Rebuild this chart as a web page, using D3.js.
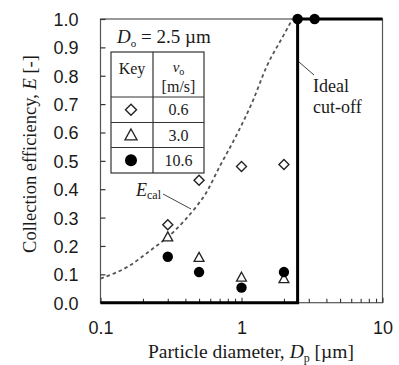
<!DOCTYPE html>
<html>
<head>
<meta charset="utf-8">
<script src="https://cdn.jsdelivr.net/npm/d3@7"></script>
<style>
  html, body { margin: 0; padding: 0; background: #fff; }
  svg { display: block; }
  text { fill: #1a1a1a; }
</style>
</head>
<body>
<svg id="chart" width="399" height="365"></svg>
<script>
// Particle sizes tested (µm) and measured collection efficiencies per face velocity
const particleSizes = [0.3, 0.5, 1, 2];
const eff06 = [0.275, 0.432, 0.48, 0.487];   // v_o = 0.6 m/s
const eff30 = [0.232, 0.16, 0.09, 0.085];    // v_o = 3.0 m/s
const sizes106 = [0.3, 0.5, 1, 2, 2.5, 3.3];
const eff106 = [0.162, 0.108, 0.053, 0.108, 1.0, 1.0]; // v_o = 10.6 m/s

// Calculated efficiency curve E_cal
const calSizes = [0.1, 0.16, 0.22, 0.33, 0.48, 0.55, 0.7, 0.92, 1.2, 1.5, 2.0, 2.3];
const calEff   = [0.085, 0.13, 0.18, 0.25, 0.34, 0.38, 0.48, 0.59, 0.71, 0.83, 0.945, 1.0];

// Ideal cut-off step at D_o = 2.5 µm
const cutSizes = [0.1, 2.5, 2.5, 10];
const cutEff   = [0, 0, 1, 1];

const yTicks = [0, 0.1, 0.2, 0.3, 0.4, 0.5, 0.6, 0.7, 0.8, 0.9, 1.0];
const xTicks = [0.1, 1, 10];
const legendKeys = ["0.6", "3.0", "10.6"];

const svg = d3.select("#chart");
const pLeft = 100.5, pRight = 382.5, pTop = 19, pBottom = 302.7;

const x = d3.scaleLog().domain([0.1, 10]).range([pLeft, pRight]);
const y = d3.scaleLinear().domain([0, 1]).range([pBottom, pTop]);

const serif = "'Liberation Serif', 'Times New Roman', serif";
const sans = "'Liberation Sans', Arial, sans-serif";

// Custom marker shapes
const diamond = { draw(ctx, s) { const r = s; ctx.moveTo(0, -r); ctx.lineTo(r, 0); ctx.lineTo(0, r); ctx.lineTo(-r, 0); ctx.closePath(); } };
const triangle = { draw(ctx, s) { const h = s; ctx.moveTo(0, -h * 0.55); ctx.lineTo(h * 0.55, h * 0.45); ctx.lineTo(-h * 0.55, h * 0.45); ctx.closePath(); } };

// Frame
svg.append("rect")
  .attr("x", pLeft).attr("y", pTop)
  .attr("width", pRight - pLeft).attr("height", pBottom - pTop)
  .attr("fill", "none").attr("stroke", "#555").attr("stroke-width", 1.2);

// Y axis with inward ticks
const yAxis = d3.axisLeft(y).tickValues(yTicks).tickSizeInner(-5).tickSizeOuter(0)
  .tickFormat(d3.format(".1f"));
const gy = svg.append("g").attr("transform", `translate(${pLeft},0)`).call(yAxis);
gy.select(".domain").remove();
gy.selectAll(".tick line").attr("stroke", "#333").attr("stroke-width", 1.2);
gy.selectAll(".tick text")
  .attr("x", -22).attr("dy", "0.36em")
  .style("font-family", sans).style("font-size", "18px").attr("fill", "#222");

// X axis (log) with inward major and minor ticks
const minor = [];
for (let dec = 0.1; dec < 10; dec *= 10) for (let k = 2; k <= 9; k++) minor.push(+(dec * k).toFixed(3));
const gx = svg.append("g").attr("transform", `translate(0,${pBottom})`);
gx.call(d3.axisBottom(x).tickValues(minor).tickSize(-4).tickFormat(""));
gx.call(g => g.selectAll(".tick line").attr("stroke", "#333").attr("stroke-width", 1.1));
gx.select(".domain").remove();
const gx2 = svg.append("g").attr("transform", `translate(0,${pBottom})`)
  .call(d3.axisBottom(x).tickValues(xTicks).tickSize(-5).tickFormat(d => d3.format("")(d)));
gx2.select(".domain").remove();
gx2.selectAll(".tick line").attr("stroke", "#333").attr("stroke-width", 1.1);
gx2.selectAll(".tick text").attr("y", 25).attr("dy", "0.36em")
  .style("font-family", sans).style("font-size", "18px").attr("fill", "#222");

// Axis titles
const yt = svg.append("text")
  .attr("transform", `translate(36,154) rotate(-90)`)
  .attr("text-anchor", "middle")
  .style("font-family", serif).style("font-size", "18.5px");
yt.append("tspan").text("Collection efficiency, ");
yt.append("tspan").attr("font-style", "italic").text("E");
yt.append("tspan").text(" [-]");

const xt = svg.append("text")
  .attr("x", 251).attr("y", 358)
  .attr("text-anchor", "middle")
  .style("font-family", serif).style("font-size", "19.5px");
xt.append("tspan").text("Particle diameter, ");
xt.append("tspan").attr("font-style", "italic").text("D");
xt.append("tspan").attr("font-size", "12px").attr("dy", 4).text("p");
xt.append("tspan").attr("dy", -4).text(" [µm]");

// E_cal curve
const calLine = d3.line().x(d => x(d[0])).y(d => y(d[1])).curve(d3.curveMonotoneX);
svg.append("path")
  .datum(calSizes.map((d, i) => [d, calEff[i]]))
  .attr("d", calLine)
  .attr("fill", "none").attr("stroke", "#555").attr("stroke-width", 1.8)
  .attr("stroke-dasharray", "3.5,3");

// Ideal cut-off line
svg.append("path")
  .datum(cutSizes.map((d, i) => [d, cutEff[i]]))
  .attr("d", d3.line().x(d => x(d[0])).y(d => y(d[1])))
  .attr("fill", "none").attr("stroke", "#000").attr("stroke-width", 3);

// Data markers
svg.append("g").selectAll("path").data(particleSizes).join("path")
  .attr("transform", (d, i) => `translate(${x(d)},${y(eff06[i])})`)
  .attr("d", d3.symbol().type(diamond).size(5))
  .attr("fill", "#fff").attr("stroke", "#222").attr("stroke-width", 1.4);
svg.append("g").selectAll("path").data(particleSizes).join("path")
  .attr("transform", (d, i) => `translate(${x(d)},${y(eff30[i])})`)
  .attr("d", d3.symbol().type(triangle).size(9))
  .attr("fill", "#fff").attr("stroke", "#222").attr("stroke-width", 1.3);
svg.append("g").selectAll("circle").data(sizes106).join("circle")
  .attr("cx", d => x(d)).attr("cy", (d, i) => y(eff106[i])).attr("r", 5.2)
  .attr("fill", "#000");

// Annotations
const ecal = svg.append("text").attr("x", 136).attr("y", 196)
  .style("font-family", serif).style("font-size", "18px");
ecal.append("tspan").attr("font-style", "italic").text("E");
ecal.append("tspan").attr("font-size", "12px").attr("dy", 3).text("cal");
svg.append("line").attr("x1", 163).attr("y1", 194).attr("x2", 191).attr("y2", 209)
  .attr("stroke", "#444").attr("stroke-width", 1);

svg.append("line").attr("x1", 299).attr("y1", 62).attr("x2", 314).attr("y2", 75)
  .attr("stroke", "#444").attr("stroke-width", 1);
svg.append("text").attr("x", 313).attr("y", 92)
  .style("font-family", serif).style("font-size", "18px").text("Ideal");
svg.append("text").attr("x", 313).attr("y", 113)
  .style("font-family", serif).style("font-size", "18px").text("cut-off");

// Legend table
const lg = svg.append("g");
const dtxt = lg.append("text").attr("x", 117).attr("y", 43)
  .style("font-family", serif).style("font-size", "19px");
dtxt.append("tspan").attr("font-style", "italic").text("D");
dtxt.append("tspan").attr("font-size", "11px").attr("dy", 4).text("o");
dtxt.append("tspan").attr("dy", -4).text(" = 2.5 µm");

const tL = 111, tR = 204, tC = 153, tTop = 52, rows = [97, 122.5, 147.5, 173];
lg.append("rect").attr("x", tL).attr("y", tTop).attr("width", tR - tL).attr("height", rows[3] - tTop)
  .attr("fill", "#fff").attr("stroke", "#333").attr("stroke-width", 1.2);
lg.append("line").attr("x1", tC).attr("x2", tC).attr("y1", tTop).attr("y2", rows[3])
  .attr("stroke", "#333").attr("stroke-width", 1.2);
rows.slice(0, 3).forEach(ry => lg.append("line").attr("x1", tL).attr("x2", tR).attr("y1", ry).attr("y2", ry)
  .attr("stroke", "#333").attr("stroke-width", 1.2));

lg.append("text").attr("x", (tL + tC) / 2).attr("y", 74).attr("text-anchor", "middle")
  .style("font-family", serif).style("font-size", "16px").text("Key");
const vh = lg.append("text").attr("x", (tC + tR) / 2).attr("y", 72).attr("text-anchor", "middle")
  .style("font-family", serif).style("font-size", "15px");
vh.append("tspan").attr("font-style", "italic").text("v");
vh.append("tspan").attr("font-size", "10px").attr("dy", 3).text("o");
lg.append("text").attr("x", (tC + tR) / 2).attr("y", 92).attr("text-anchor", "middle")
  .style("font-family", serif).style("font-size", "16px").text("[m/s]");

legendKeys.forEach((k, i) => {
  const cy = (rows[i] + rows[i + 1]) / 2;
  const cx = (tL + tC) / 2 - 1;
  if (i === 0) lg.append("path").attr("transform", `translate(${cx},${cy})`)
    .attr("d", d3.symbol().type(diamond).size(5.5)).attr("fill", "#fff").attr("stroke", "#222").attr("stroke-width", 1.4);
  if (i === 1) lg.append("path").attr("transform", `translate(${cx},${cy})`)
    .attr("d", d3.symbol().type(triangle).size(11)).attr("fill", "#fff").attr("stroke", "#222").attr("stroke-width", 1.3);
  if (i === 2) lg.append("circle").attr("cx", cx).attr("cy", cy).attr("r", 6).attr("fill", "#000");
  lg.append("text").attr("x", (tC + tR) / 2).attr("y", cy + 5.5).attr("text-anchor", "middle")
    .style("font-family", serif).style("font-size", "16px").text(k);
});
</script>
</body>
</html>
